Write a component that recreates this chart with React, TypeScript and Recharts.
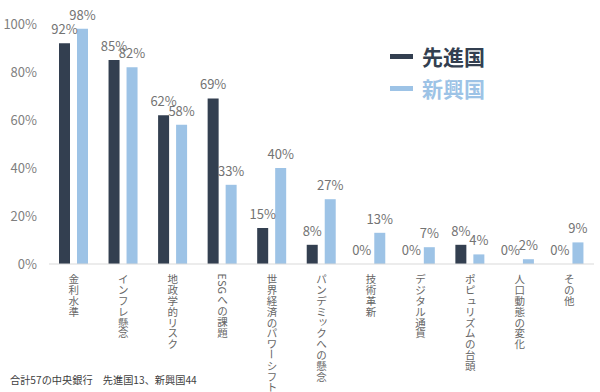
import React from 'react';
import { BarChart, Bar, XAxis, YAxis, LabelList, Legend, Rectangle } from 'recharts';

const categories = ['金利水準', 'インフレ懸念', '地政学的リスク', 'ESGへの課題', '世界経済のパワーシフト', 'パンデミックへの懸念', '技術革新', 'デジタル通貨', 'ポピュリズムの台頭', '人口動態の変化', 'その他'];
const advanced = [92, 85, 62, 69, 15, 8, 0, 0, 8, 0, 0];
const emerging = [98, 82, 58, 33, 40, 27, 13, 7, 4, 2, 9];
const yTicks = [0, 20, 40, 60, 80, 100];
const seriesNames = ['先進国', '新興国'];
const footnote = '合計57の中央銀行　先進国13、新興国44';

const DARK = '#333F50';
const LIGHT = '#9DC3E6';
const FONT = '"Noto Sans CJK JP", "Noto Sans", sans-serif';
const SMALL_KANA = 'ァィゥェォッャュョヮぁぃぅぇぉっゃゅょ';

const data = categories.map((c, i) => ({ name: c, adv: advanced[i], emg: emerging[i] }));

const VerticalTick = (props: any) => {
  const { x, y, payload } = props;
  const chars: string[] = Array.from(String(payload.value));
  let pos = y + 1;
  const upright: React.ReactNode[] = [];
  const rotated: React.ReactNode[] = [];
  chars.forEach((ch, i) => {
    const isAscii = /[A-Za-z0-9]/.test(ch);
    const rotate = isAscii || ch === 'ー';
    const adv = isAscii ? 7 : 10.8;
    const cy = pos + adv / 2;
    if (rotate) {
      rotated.push(
        <text
          key={`r${i}`}
          x={x}
          y={cy}
          fill="#666666"
          fontSize={10.5}
          fontFamily={FONT}
          textAnchor="middle"
          dominantBaseline="central"
          transform={`rotate(90, ${x}, ${cy})`}
        >
          {ch}
        </text>
      );
    } else {
      const small = SMALL_KANA.includes(ch);
      upright.push(
        <tspan key={`u${i}`} x={x + (small ? 1.5 : 0)} y={cy - (small ? 1.5 : 0)}>
          {ch}
        </tspan>
      );
    }
    pos += adv;
  });
  return (
    <g>
      <text fill="#666666" fontSize={10.5} fontFamily={FONT} textAnchor="middle" dominantBaseline="central">
        {upright}
      </text>
      {rotated}
    </g>
  );
};

const BarShape = (props: any) => {
  if (!props.height || Math.abs(props.height) < 1) return <g />;
  return <Rectangle {...props} />;
};

const LegendContent = () => (
  <div style={{ fontFamily: FONT }}>
    {[DARK, LIGHT].map((c, i) => (
      <div key={i} style={{ display: 'flex', alignItems: 'center', height: 32 }}>
        <div style={{ width: 23, height: 5, background: c, marginRight: 9 }} />
        <span style={{ color: c, fontSize: 21, fontWeight: 700, lineHeight: '21px' }}>{seriesNames[i]}</span>
      </div>
    ))}
  </div>
);

export default function App() {
  return (
    <div style={{ position: 'absolute', left: 0, top: 0, width: 600, height: 392, background: '#fff' }}>
      <BarChart
        width={600}
        height={392}
        data={data}
        margin={{ top: 24, right: 6, left: 0, bottom: 8 }}
        barSize={11}
        barGap={7}
      >
        <XAxis
          dataKey="name"
          interval={0}
          tickLine={false}
          axisLine={{ stroke: '#D9D9D9' }}
          tick={<VerticalTick />}
          height={120}
        />
        <YAxis
          domain={[0, 100]}
          ticks={yTicks}
          tickFormatter={(v: number) => `${v}%`}
          axisLine={false}
          tickLine={false}
          tickMargin={6}
          width={49}
          tick={{ fill: '#7F7F7F', fontSize: 13, fontFamily: FONT }}
        />
        <Legend
          layout="vertical"
          align="center"
          verticalAlign="middle"
          content={<LegendContent />}
          wrapperStyle={{ position: 'absolute', left: 390, top: 40, width: 120 }}
        />
        <Bar dataKey="adv" name={seriesNames[0]} fill={DARK} minPointSize={0.2} shape={<BarShape />} isAnimationActive={false}>
          <LabelList dataKey="adv" position="top" offset={9} formatter={(v: number) => `${v}%`} fill="#737373" fontSize={13} fontFamily={FONT} />
        </Bar>
        <Bar dataKey="emg" name={seriesNames[1]} fill={LIGHT} minPointSize={0.2} shape={<BarShape />} isAnimationActive={false}>
          <LabelList dataKey="emg" position="top" offset={9} formatter={(v: number) => `${v}%`} fill="#737373" fontSize={13} fontFamily={FONT} />
        </Bar>
      </BarChart>
      <div style={{ position: 'absolute', left: 10, top: 372, fontSize: 10.2, color: '#404040', fontFamily: FONT, whiteSpace: 'nowrap' }}>
        {footnote}
      </div>
    </div>
  );
}
